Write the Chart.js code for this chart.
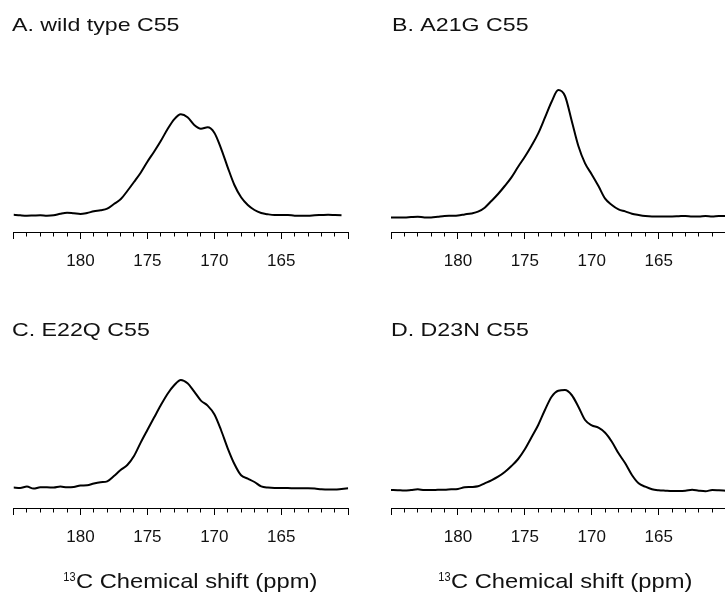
<!DOCTYPE html>
<html>
<head>
<meta charset="utf-8">
<title>13C C55 spectra</title>
<script src="https://cdn.jsdelivr.net/npm/chart.js@4.4.1/dist/chart.umd.min.js"></script>
<style>
  html, body { margin: 0; padding: 0; background: #fff; width: 725px; height: 593px; overflow: hidden; position: relative; }
  canvas { position: absolute; }
</style>
</head>
<body>
<canvas id="panelA" width="362" height="290" style="left:0;top:0"></canvas>
<canvas id="panelB" width="376" height="290" style="left:362px;top:0"></canvas>
<canvas id="panelC" width="362" height="303" style="left:0;top:290px"></canvas>
<canvas id="panelD" width="376" height="303" style="left:362px;top:290px"></canvas>
<script>
// Chemical shift grid (ppm), high to low
const shiftPpm = [
  185, 184.5, 184, 183.5, 183, 182.5, 182, 181.5, 181, 180.5,
  180, 179.5, 179, 178.5, 178, 177.5, 177, 176.5, 176, 175.5,
  175, 174.5, 174, 173.5, 173, 172.5, 172, 171.5, 171, 170.5,
  170, 169.5, 169, 168.5, 168, 167.5, 167, 166.5, 166, 165.5,
  165, 164.5, 164, 163.5, 163, 162.5, 162, 161.5, 161, 160.5, 160
];

// C55 carbonyl intensities (arbitrary units)
const wildType = [
  0.3, -0.3, -0.7, -0.5, -0.3, -0.7, -0.3, 1.3, 2.3, 1.7,
  1.0, 2.0, 3.7, 4.7, 6.3, 11, 15.7, 24, 33, 42.3,
  53.3, 63.3, 74, 85.7, 95.7, 100.7, 97.7, 90, 86.3, 87.7,
  82.3, 66.7, 47.7, 30, 17.7, 10, 5, 2, 0.7, 0,
  0, 0, -0.7, -0.7, -0.7, -0.3, 0, 0.3, 0, -0.3, null
];
const a21g = [
  -0.7, -0.7, -0.7, -0.3, 0, -0.7, -0.7, 0, 0.7, 1,
  1.3, 2.3, 3.3, 5, 9, 15.7, 22.7, 30.7, 39.3, 50,
  60, 71, 83.3, 99, 115, 126.7, 120.7, 96, 70.7, 53.3,
  42.3, 30.7, 18, 11.7, 7.3, 5.3, 3, 1.7, 0.7, 0.3,
  0.3, 0.3, 0.3, 0.5, 0.7, 0.3, 0.3, 0.7, 0.3, 0.7, 0.7
];
const e22q = [
  0.7, 0.3, 1.7, -0.3, 1, 1, 0.7, 1.7, 1, 1.3,
  2.7, 3, 4.7, 6, 7, 12.3, 18.3, 23.3, 32.3, 45.7,
  58.3, 70.7, 83, 94.3, 103, 108.3, 105, 96.7, 87.7, 82.7,
  74, 58.3, 40, 24.3, 13, 9.7, 6.3, 2, 0.7, 0.3,
  0.3, 0.3, 0, 0, 0, -0.3, -1, -1.3, -1.3, -0.7, 0
];
const d23n = [
  0, -0.2, -0.5, 0, 0.7, 0, 0, 0.2, 0.3, 0.7,
  1, 2.7, 3, 3.7, 6.7, 9.7, 13.3, 18, 24, 31,
  40.7, 52.7, 65, 80, 93.3, 99.3, 100, 95, 83.3, 70,
  64.7, 62.3, 57.3, 48.3, 36.7, 26.7, 15, 6.7, 3.3, 0.7,
  -0.3, -0.7, -1, -1, -0.7, 0.3, -0.7, -1.3, 0, -0.3, -0.7
];

// Axis tick labels shown under each spectrum
const tickLabels = [180, 175, 170, 165];

const panelTitles = ['A. wild type C55', 'B. A21G C55', 'C. E22Q C55', 'D. D23N C55'];
const axisTitleSup = '13';
const axisTitleMain = 'C Chemical shift (ppm)';

const FONT = '"Liberation Sans", Arial, Helvetica, sans-serif';

// Draws stretched text labels at canvas coordinates
const textPlugin = {
  id: 'panelText',
  afterDraw(chart, args, opts) {
    const ctx = chart.ctx;
    (opts.items || []).forEach(it => {
      ctx.save();
      ctx.fillStyle = '#111';
      ctx.font = it.size + 'px ' + FONT;
      ctx.textBaseline = 'alphabetic';
      ctx.textAlign = 'left';
      ctx.translate(it.x, it.y);
      ctx.scale(it.sx, 1);
      ctx.fillText(it.text, 0, 0);
      ctx.restore();
    });
  }
};

function makePanel(id, values, cfg) {
  const off = cfg.offset;
  const items = [
    { text: cfg.title, x: cfg.titleX - off.x, y: cfg.titleY - off.y, size: 19, sx: 1.22 }
  ];
  if (cfg.axisTitle) {
    items.push({ text: axisTitleSup, x: cfg.axisX - off.x, y: 580.5 - off.y, size: 12, sx: 0.92 });
    items.push({ text: axisTitleMain, x: cfg.axisX + 12.7 - off.x, y: 588 - off.y, size: 21, sx: 1.13 });
  }
  return new Chart(document.getElementById(id), {
    type: 'line',
    data: {
      datasets: [{
        data: shiftPpm.map((x, i) => ({ x: x, y: values[i] })),
        borderColor: '#000',
        borderWidth: 2,
        pointRadius: 0,
        fill: false,
        cubicInterpolationMode: 'monotone',
        spanGaps: false
      }]
    },
    options: {
      responsive: false,
      animation: false,
      events: [],
      layout: { padding: cfg.padding },
      plugins: {
        legend: { display: false },
        tooltip: { enabled: false },
        title: { display: false },
        panelText: { items: items }
      },
      scales: {
        x: {
          type: 'linear',
          reverse: true,
          min: 160,
          max: 185,
          afterFit: s => { s.height = 45; },
          border: { display: true, color: '#000', width: 1 },
          grid: {
            drawOnChartArea: false,
            drawTicks: true,
            tickLength: 7,
            tickColor: '#000',
            tickWidth: 1,
            tickBorderDash: c => (c.tick && c.tick.value % 5 === 0) ? [] : [3.5, 50]
          },
          ticks: {
            stepSize: 1,
            autoSkip: false,
            maxRotation: 0,
            padding: 12,
            color: '#111',
            font: { family: FONT, size: 17 },
            callback: v => tickLabels.includes(v) ? String(v) : ''
          }
        },
        y: {
          display: false,
          min: cfg.yMin,
          max: cfg.yMax
        }
      }
    },
    plugins: [textPlugin]
  });
}

makePanel('panelA', wildType, {
  offset: { x: 0, y: 0 }, title: panelTitles[0], titleX: 12, titleY: 31,
  padding: { left: 13.5, right: 13.8, top: 70, bottom: 13 },
  yMin: -17, yMax: 145
});
makePanel('panelB', a21g, {
  offset: { x: 362, y: 0 }, title: panelTitles[1], titleX: 392, titleY: 31,
  padding: { left: 29, right: 12.4, top: 70, bottom: 13 },
  yMin: -15.3, yMax: 146.7
});
makePanel('panelC', e22q, {
  offset: { x: 0, y: 290 }, title: panelTitles[2], titleX: 12, titleY: 336,
  axisTitle: true, axisX: 63.3,
  padding: { left: 13.5, right: 13.8, top: 50, bottom: 40 },
  yMin: -19.7, yMax: 148.3
});
makePanel('panelD', d23n, {
  offset: { x: 362, y: 290 }, title: panelTitles[3], titleX: 391, titleY: 336,
  axisTitle: true, axisX: 438.3,
  padding: { left: 29, right: 12.4, top: 50, bottom: 40 },
  yMin: -18, yMax: 150
});
</script>
</body>
</html>
